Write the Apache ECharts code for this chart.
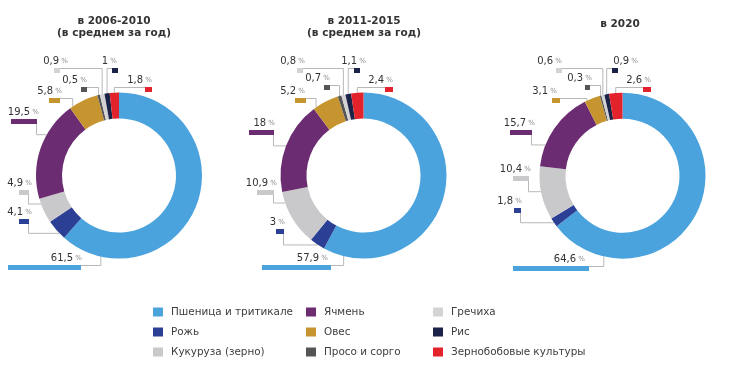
<!DOCTYPE html>
<html>
<head>
<meta charset="utf-8">
<script src="https://cdn.jsdelivr.net/npm/echarts@6/dist/echarts.min.js"></script>
<style>html,body{margin:0;padding:0;background:#fff}#c{width:730px;height:373px}</style>
</head>
<body>
<div id="c"></div>
<script>
// ---- data ----
const categories = ['Пшеница и тритикале', 'Рожь', 'Кукуруза (зерно)', 'Ячмень', 'Овес', 'Просо и сорго', 'Гречиха', 'Рис', 'Зернобобовые культуры'];
const periodTitles = ['в 2006-2010\n(в среднем за год)', 'в 2011-2015\n(в среднем за год)', 'в 2020'];
const share2006_2010 = [61.5, 4.1, 4.9, 19.5, 5.8, 0.5, 0.9, 1, 1.8];
const share2011_2015 = [57.9, 3, 10.9, 18, 5.2, 0.7, 0.8, 1.1, 2.4];
const share2020 = [64.6, 1.8, 10.4, 15.7, 3.1, 0.3, 0.6, 0.9, 2.6];

// ---- styles / layout ----
const shares = [share2006_2010, share2011_2015, share2020];
const colors = ['#4ba3dd', '#2b3f95', '#c9c9cb', '#6b2c72', '#c69530', '#555555', '#d3d3d5', '#1b2247', '#e3232b'];
const FONT = 'DejaVu Sans';
const R_IN = 57, R_OUT = 83;
const centers = [[119, 175.5], [363.5, 175.5], [622.5, 175.7]];
const titlePos = [[114, 15], [364, 15], [620, 18]];
// per label: [textRight, markerRight, markerTop, connector mode, position within slice]
const labelPos = [
  [[82, 81, 265, 'h', 0.87], [32, 29, 219, 'v', 0.3], [32, 29, 190, 'v', 0.78], [39, 37, 119, 'v', 0.65], [62, 60, 98, 'h', 0.1], [87, 87, 87, 'h', 0.5], [68, 60, 68, 'h', 0.5], [117, 118, 68, 'h', 0.5], [152, 152, 87, 'h', 0.5]],
  [[328, 331, 265, 'h', 0.93], [285, 284, 229, 'v', 0.44], [277, 274, 190, 'v', 0.8], [275, 274, 130, 'v', 0.5], [305, 306, 98, 'h', 0.1], [330, 330, 85, 'h', 0.5], [305, 303, 68, 'h', 0.5], [366, 360, 68, 'h', 0.5], [393, 393, 87, 'h', 0.5]],
  [[585, 589, 266, 'h', 0.83], [522, 521, 208, 'v', 0.45], [531, 529, 176, 'v', 0.53], [535, 532, 130, 'v', 0.27], [557, 560, 98, 'h', 0.15], [592, 590, 85, 'h', 0.5], [562, 562, 68, 'h', 0.5], [638, 618, 68, 'h', 0.5], [651, 651, 87, 'h', 0.5]]
];
const MARK_H = 5;
const markerWidth = v => Math.round(5 + v * 1.1);
const fmt = v => String(v).replace('.', ',');

function ringPoint(si, idx, t) {
  const vals = shares[si];
  const total = vals.reduce((a, b) => a + b, 0);
  let cum = 0;
  for (let i = 0; i < idx; i++) cum += vals[i];
  const a = (cum + t * vals[idx]) / total * Math.PI * 2;
  const c = centers[si];
  return [c[0] + R_OUT * Math.sin(a), c[1] - R_OUT * Math.cos(a)];
}

function buildData(si) {
  return shares[si].map((v, i) => {
    const p = labelPos[si][i];
    const w = markerWidth(v);
    const padText = Math.max(0, p[1] - p[0]);
    const padMark = Math.max(0, p[0] - p[1]);
    let f = '{v|' + fmt(v) + '}{p| %}' + (padText > 0 ? '{a| }' : '') + '\n{m| }' + (padMark > 0 ? '{b| }' : '');
    return {
      name: categories[i],
      value: v,
      itemStyle: { color: colors[i] },
      label: {
        formatter: f,
        rich: {
          v: { fontSize: 10, color: '#333', fontFamily: FONT, lineHeight: 13, align: 'right' },
          p: { fontSize: 7, color: '#8a8a8a', fontFamily: FONT, lineHeight: 13, align: 'right' },
          a: { width: padText, fontSize: 5, lineHeight: 13, align: 'right' },
          m: { width: w, height: MARK_H, lineHeight: MARK_H, fontSize: 4, backgroundColor: colors[i], align: 'right' },
          b: { width: padMark, height: MARK_H, lineHeight: MARK_H, fontSize: 4, align: 'right' }
        }
      }
    };
  });
}

function layoutFn(params) {
  const si = params.seriesIndex;
  const i = params.dataIndex;
  const p = labelPos[si][i];
  const v = shares[si][i];
  const w = markerWidth(v);
  const ring = ringPoint(si, i, p[4]);
  const mRight = p[1], mLeft = p[1] - w, mTop = p[2];
  let pts;
  if (p[3] === 'h') {
    const my = mTop + 0.5;
    const mx = ring[0] > mRight ? mRight : mLeft;
    pts = [[ring[0], ring[1]], [ring[0], my], [mx, my]];
  } else {
    const mx = mRight - 0.5;
    pts = [[ring[0], ring[1]], [mx, ring[1]], [mx, mTop + MARK_H]];
  }
  return {
    x: Math.max(p[0], p[1]),
    y: mTop + MARK_H,
    align: 'right',
    verticalAlign: 'bottom',
    labelLinePoints: pts
  };
}

const series = shares.map((s, si) => ({
  type: 'pie',
  center: centers[si],
  radius: [R_IN, R_OUT],
  startAngle: 90,
  clockwise: true,
  avoidLabelOverlap: false,
  silent: true,
  emphasis: { disabled: true },
  data: buildData(si),
  label: { show: true, position: 'outside', width: 140, overflow: 'none' },
  labelLine: { show: true, length: 8, length2: 8, lineStyle: { color: '#b8b8b8', width: 1 } },
  labelLayout: layoutFn
}));

const legendCols = [[0, 1, 2], [3, 4, 5], [6, 7, 8]];
const legendX = [153, 306, 433];

const option = {
  animation: false,
  backgroundColor: '#fff',
  color: colors,
  title: periodTitles.map((t, i) => ({
    text: t,
    left: titlePos[i][0],
    top: titlePos[i][1],
    textAlign: 'center',
    padding: 0,
    textStyle: { fontSize: 10.5, fontWeight: 'bold', color: '#333', lineHeight: 12, fontFamily: FONT }
  })),
  legend: legendCols.map((col, i) => ({
    orient: 'vertical',
    left: legendX[i],
    top: 306,
    padding: 0,
    itemWidth: 10,
    itemHeight: 9,
    itemGap: 8,
    icon: 'rect',
    selectedMode: false,
    data: col.map(k => categories[k]),
    textStyle: { fontSize: 10.4, color: '#3d3d3d', fontFamily: FONT, lineHeight: 12, padding: [0, 0, 0, 3] }
  })),
  series: series
};

const chart = echarts.init(document.getElementById('c'), null, { renderer: 'canvas' });
chart.setOption(option);
</script>
</body>
</html>
